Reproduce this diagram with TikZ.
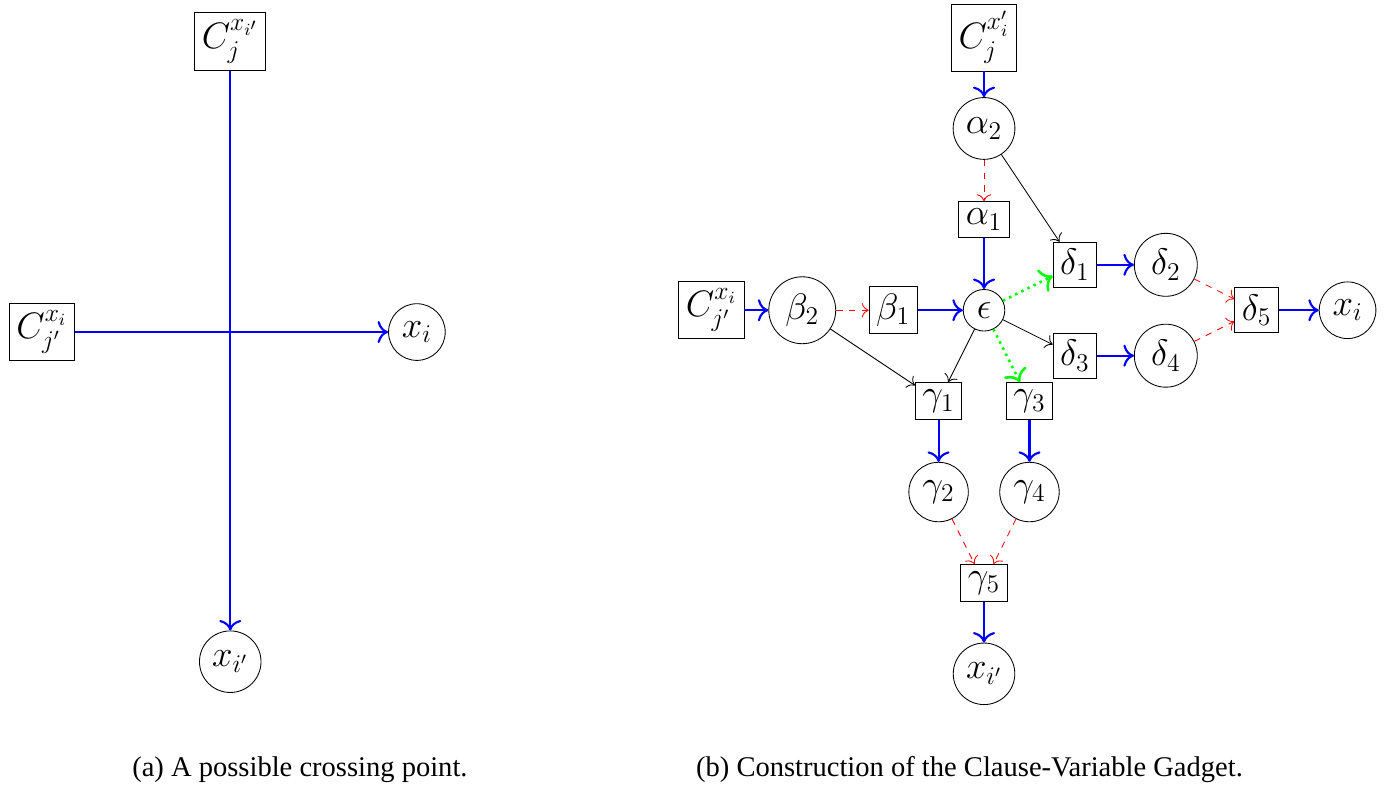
\documentclass[tikz,border=0pt]{standalone}
\usepackage{amsmath}
\usepackage{fontspec}
\newfontfamily\capfont{Liberation Serif}
\usetikzlibrary{positioning, arrows.meta}

\tikzset{
    var/.style={circle, draw},
    cls/.style={rectangle, draw},
    poslink/.style={->, blue, line width=1pt},
    neglink/.style={->, red, dashed},
    crosslink/.style={->, black},
    choicelink/.style={->, green, dotted, line width=1.2pt},
    subcap/.style={font=\capfont\fontsize{13.4}{16}\selectfont, anchor=base},
}

\begin{document}
\begin{tikzpicture}[>={To[scale=1.3]}, node distance=1.5cm, on grid,
        every node/.style={font=\fontsize{17}{20}\selectfont}]
    \useasboundingbox (0,0) rectangle (22.94,-13.12);

    % (a) crossing point
    \node[cls] (cla) at (0.69,-5.48) {$C_{j'}^{x_i}$};
    \node[cls, above right=4.8cm and 3.11cm of cla] (cta) {$C_j^{x_{i'}}$};
    \node[var, right=6.19cm of cla] (xia) {$x_i$};
    \node[var, below right=5.44cm and 3.11cm of cla] (xja) {$x_{i'}$};
    \draw[poslink] (cta) -- (xja);
    \draw[poslink] (cla) -- (xia);
    \node[subcap] (capa) at (4.95,-12.82) {(a) A possible crossing point.};

    % (b) clause-variable gadget
    \node[var] (eps) at (16.24,-5.12) {$\epsilon$};
    \node[cls, above=of eps] (a1) {$\alpha_1$};
    \node[var, above=of a1] (a2) {$\alpha_2$};
    \node[cls, above=of a2] (ctop) {$C_j^{x'_i}$};
    \node[cls, left=of eps] (b1) {$\beta_1$};
    \node[var, left=of b1] (b2) {$\beta_2$};
    \node[cls, left=of b2] (cleft) {$C_{j'}^{x_i}$};
    \node[cls, above right=0.75cm and 1.5cm of eps] (d1) {$\delta_1$};
    \node[var, right=of d1] (d2) {$\delta_2$};
    \node[cls, below right=0.75cm and 1.5cm of eps] (d3) {$\delta_3$};
    \node[var, right=of d3] (d4) {$\delta_4$};
    \node[cls, right=4.5cm of eps] (d5) {$\delta_5$};
    \node[var, right=of d5] (xi) {$x_i$};
    \node[cls, below left=1.5cm and 0.75cm of eps] (g1) {$\gamma_1$};
    \node[cls, below right=1.5cm and 0.75cm of eps] (g3) {$\gamma_3$};
    \node[var, below=of g1] (g2) {$\gamma_2$};
    \node[var, below=of g3] (g4) {$\gamma_4$};
    \node[cls, below right=1.5cm and 0.75cm of g2] (g5) {$\gamma_5$};
    \node[var, below=of g5] (xj) {$x_{i'}$};

    \draw[poslink] (ctop) -- (a2);
    \draw[neglink] (a2) -- (a1);
    \draw[crosslink] (a2) -- (d1);
    \draw[poslink] (a1) -- (eps);
    \draw[poslink] (cleft) -- (b2);
    \draw[neglink] (b2) -- (b1);
    \draw[crosslink] (b2) -- (g1);
    \draw[poslink] (b1) -- (eps);
    \draw[choicelink] (eps) -- (d1);
    \draw[crosslink] (eps) -- (d3);
    \draw[crosslink] (eps) -- (g1);
    \draw[choicelink] (eps) -- (g3);
    \draw[poslink] (d1) -- (d2);
    \draw[poslink] (d3) -- (d4);
    \draw[neglink] (d2) -- (d5);
    \draw[neglink] (d4) -- (d5);
    \draw[poslink] (d5) -- (xi);
    \draw[poslink] (g1) -- (g2);
    \draw[poslink] (g3) -- (g4);
    \draw[neglink] (g2) -- (g5);
    \draw[neglink] (g4) -- (g5);
    \draw[poslink] (g5) -- (xj);
    \node[subcap] (capb) at (16.0,-12.82) {(b) Construction of the Clause-Variable Gadget.};
\end{tikzpicture}
\end{document}
